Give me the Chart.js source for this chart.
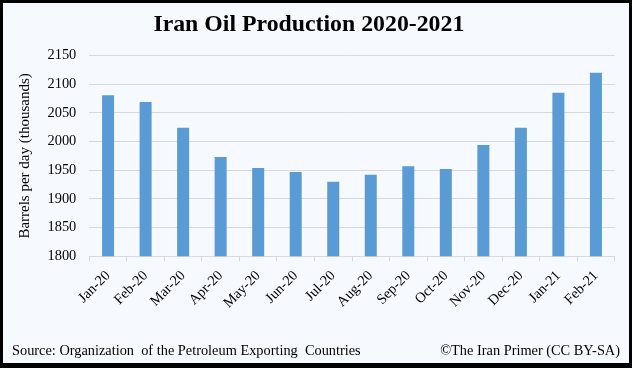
<!DOCTYPE html>
<html>
<head>
<meta charset="utf-8">
<script src="https://cdn.jsdelivr.net/npm/chart.js@4.4.1/dist/chart.umd.min.js"></script>
<style>
  html, body { margin: 0; padding: 0; background: #000; }
  #box {
    width: 626px; height: 360px;
    border-style: solid; border-color: #000;
    border-width: 3px 3px 5px 3px;
    background: #f6f9fd;
  }
</style>
</head>
<body>
<div id="box"><canvas id="oilChart" width="626" height="360"></canvas></div>
<script>
const months = ['Jan-20', 'Feb-20', 'Mar-20', 'Apr-20', 'May-20', 'Jun-20', 'Jul-20',
  'Aug-20', 'Sep-20', 'Oct-20', 'Nov-20', 'Dec-20', 'Jan-21', 'Feb-21'];
const production = [2081, 2069, 2024, 1973, 1954, 1947, 1930, 1942, 1957, 1952, 1994, 2024, 2085, 2120];
const yMin = 1800;
const yMax = 2150;
const yStep = 50;

const serif = '"Liberation Serif", "Times New Roman", serif';

// source line and copyright at the bottom
const footerText = {
  id: 'footerText',
  afterDraw(chart) {
    const c = chart.ctx;
    c.save();
    c.font = '14.35px ' + serif;
    c.fillStyle = '#000';
    c.textBaseline = 'middle';
    c.textAlign = 'left';
    c.fillText('Source: Organization  of the Petroleum Exporting  Countries', 9, 348);
    c.textAlign = 'right';
    c.fillText('\u00A9The Iran Primer (CC BY-SA)', 617, 348);
    c.restore();
  }
};

const ctx = document.getElementById('oilChart');

new Chart(ctx, {
  type: 'bar',
  data: {
    labels: months,
    datasets: [{
      label: 'Production',
      data: production,
      backgroundColor: '#5b9bd5',
      barPercentage: 0.32,
      categoryPercentage: 1
    }]
  },
  options: {
    responsive: false,
    animation: false,
    layout: { padding: { left: 0, right: 14.3, top: 0, bottom: 36.7 } },
    plugins: {
      legend: { display: false },
      tooltip: { enabled: false },
      title: {
        display: true,
        text: 'Iran Oil Production 2020-2021',
        color: '#000',
        font: { family: serif, size: 23.8, weight: 'bold', lineHeight: 1.2 },
        padding: { top: 8, bottom: 16 }
      }
    },
    scales: {
      x: {
        grid: { drawOnChartArea: false, color: '#d9d9d9', tickLength: 5, offset: true },
        border: { color: '#d9d9d9' },
        ticks: {
          color: '#000',
          font: { family: serif, size: 14.4 },
          minRotation: 45, maxRotation: 45,
          padding: 6,
          autoSkip: false
        },
        afterFit(scale) { scale.height = 70; }
      },
      y: {
        min: yMin,
        max: yMax,
        grid: { color: '#d9d9d9', drawTicks: false },
        border: { display: false },
        ticks: {
          stepSize: yStep,
          color: '#000',
          font: { family: serif, size: 14.4 },
          padding: 13,
          callback: function (value) { return String(value); }
        },
        title: {
          display: true,
          text: 'Barrels per day (thousands)',
          color: '#000',
          font: { family: serif, size: 15, lineHeight: 1.2 },
          padding: { top: 13, bottom: 0 }
        },
        afterFit(scale) { scale.width = 86.3; }
      }
    }
  },
  plugins: [footerText]
});
</script>
</body>
</html>
